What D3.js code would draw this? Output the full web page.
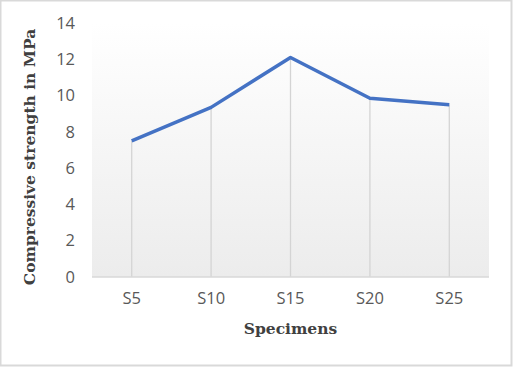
<!DOCTYPE html>
<html><head><meta charset="utf-8">
<script src="https://cdn.jsdelivr.net/npm/d3@7"></script>
<style>body{margin:0;background:#fff}svg{display:block}</style>
</head><body>
<script>
const categories = ["S5","S10","S15","S20","S25"];
const values = [7.5, 9.35, 12.1, 9.85, 9.5];
const yTicks = [0,2,4,6,8,10,12,14];
const xTitle = "Specimens";
const yTitle = "Compressive strength in MPa";

const W=513,H=367;
const m={left:92,right:24,top:23,bottom:90};
const svg=d3.select("body").append("svg").attr("width",W).attr("height",H);
svg.append("rect").attr("x",0.5).attr("y",0.5).attr("width",W-2).attr("height",H-2).attr("fill","#fff").attr("stroke","#d9d9d9").attr("stroke-width",2);

const defs=svg.append("defs");
const g=defs.append("linearGradient").attr("id","bg").attr("x1",0).attr("y1",0).attr("x2",0).attr("y2",1);
g.append("stop").attr("offset","0").attr("stop-color","#ffffff");
g.append("stop").attr("offset","1").attr("stop-color","#ececec");

const x=d3.scaleBand().domain(categories).range([m.left,W-m.right]);
const y=d3.scaleLinear().domain([0,14]).range([H-m.bottom,m.top]);

svg.append("rect").attr("x",m.left).attr("y",m.top).attr("width",W-m.right-m.left).attr("height",H-m.bottom-m.top).attr("fill","url(#bg)");

// drop lines
svg.append("g").selectAll("line").data(values).join("line")
 .attr("x1",(d,i)=>x(categories[i])+x.bandwidth()/2).attr("x2",(d,i)=>x(categories[i])+x.bandwidth()/2)
 .attr("y1",d=>y(d)).attr("y2",y(0)).attr("stroke","#d4d4d4").attr("stroke-width",1.3);

// x axis line
svg.append("line").attr("x1",m.left).attr("x2",W-m.right).attr("y1",y(0)).attr("y2",y(0)).attr("stroke","#d9d9d9").attr("stroke-width",1.3);

const tickFont="'Open Sans', 'Noto Sans', sans-serif";
const yAxis=svg.append("g").attr("transform",`translate(75,0)`).call(d3.axisLeft(y).tickValues(yTicks).tickSize(0).tickPadding(0));
yAxis.select(".domain").remove();
yAxis.selectAll("text").attr("fill","#595959").attr("font-size",16.5).attr("font-family",tickFont).attr("text-anchor","end");

const xAxis=svg.append("g").attr("transform",`translate(0,${y(0)+15})`).call(d3.axisBottom(x).tickSize(0).tickPadding(0));
xAxis.select(".domain").remove();
xAxis.selectAll("text").attr("fill","#595959").attr("font-size",16.5).attr("font-family",tickFont);

const line=d3.line().x((d,i)=>x(categories[i])+x.bandwidth()/2).y(d=>y(d));
svg.append("path").datum(values).attr("d",line).attr("fill","none").attr("stroke","#4472c4").attr("stroke-width",3.5).attr("stroke-linejoin","round");

const serif="'DejaVu Serif','Liberation Serif',serif";
svg.append("text").attr("x",(m.left+W-m.right)/2).attr("y",334).attr("text-anchor","middle")
 .attr("font-family",serif).attr("font-weight","bold").attr("font-size",15.5).attr("fill","#404040").text(xTitle);
svg.append("text").attr("transform",`translate(35,157) rotate(-90)`).attr("text-anchor","middle")
 .attr("font-family",serif).attr("font-weight","bold").attr("font-size",15.5).attr("fill","#404040").text(yTitle);
</script>
</body></html>
